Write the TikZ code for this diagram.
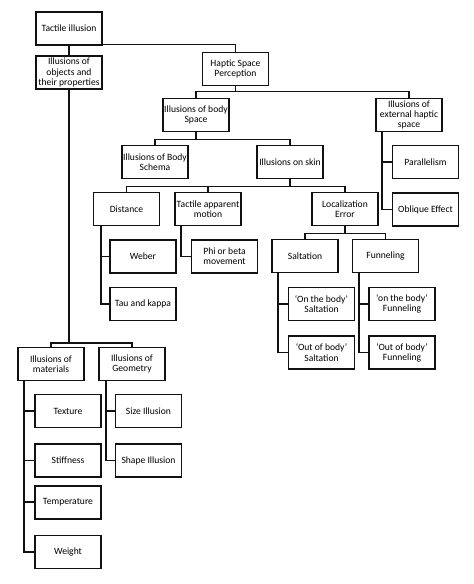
\documentclass[tikz,border=0pt]{standalone}
\usepackage{fontspec}
\setmainfont{Carlito}
\usetikzlibrary{positioning}
\definecolor{tiLine}{HTML}{111111}
\tikzset{
  tibox/.style={
    draw=tiLine, line width=1.6pt, minimum width=66pt, minimum height=33pt,
    inner sep=1pt, align=center, fill=white, font=\fontsize{9.6}{10.3}\selectfont
  },
  link/.style={line width=1.6pt, draw=tiLine},
  stem/.style={link, rounded corners=0pt}
}

\begin{document}
\begin{tikzpicture}[x=1pt, y=-1pt]
  \useasboundingbox (0,0) rectangle (474,584);
  % top levels
  \node[tibox] (tac) at (69,28.5) {Tactile illusion};
  \node[tibox] (obj) at (69,72.5) {Illusions of\\objects and\\their properties};
  \node[tibox] (hap) at (235.5,69) {Haptic Space\\Perception};
  \node[tibox] (bod) at (196,115) {Illusions of body\\Space};
  \node[tibox] (ext) at (409,115) {Illusions of\\external haptic\\space};
  \node[tibox] (sch) at (155,162) {Illusions of Body\\Schema};
  \node[tibox] (skn) at (290,162) {Illusions on skin};
  \node[tibox] (par) at (425.5,162) {Parallelism};
  \node[tibox, below=13pt of par] (obl) {Oblique Effect};
  % skin
  \node[tibox] (dis) at (126.5,209) {Distance};
  \node[tibox] (tam) at (208,209) {Tactile apparent\\motion};
  \node[tibox] (loc) at (345,209) {Localization\\Error};
  \node[tibox] (web) at (143,256.5) {Weber};
  \node[tibox, below=13pt of web] (tau) {Tau and kappa};
  \node[tibox] (phi) at (224.5,256.5) {Phi or beta\\movement};
  \node[tibox] (sal) at (305,256) {Saltation};
  \node[tibox] (fun) at (385.5,256) {Funneling};
  \node[tibox] (osa) at (321.5,304) {‘On the body’\\Saltation};
  \node[tibox, below=14pt of osa] (xsa) {‘Out of body’\\Saltation};
  \node[tibox] (ofu) at (402,304) {‘on the body’\\Funneling};
  \node[tibox, below=14pt of ofu] (xfu) {‘Out of body’\\Funneling};
  % objects
  \node[tibox] (mat) at (51,364) {Illusions of\\materials};
  \node[tibox] (geo) at (132,364) {Illusions of\\Geometry};
  \node[tibox] (tex) at (68,411) {Texture};
  \node[tibox, below=15pt of tex] (sti) {Stiffness};
  \node[tibox, below=7pt of sti] (tem) {Temperature};
  \node[tibox, below=15pt of tem] (wei) {Weight};
  \node[tibox] (siz) at (148.5,411) {Size Illusion};
  \node[tibox, below=15pt of siz] (sha) {Shape Illusion};

  % buses
  \draw[link] (tac.south) -- (obj.north);
  \draw[link] ([yshift=1.5pt]tac.south east) -| (hap.north);
  \draw[link] (hap.south) -- ++(0,5) -| (bod.north);
  \draw[link] (hap.south) -- ++(0,5) -| (ext.north);
  \draw[link] (bod.south) -- ++(0,7) -| (sch.north);
  \draw[link] (bod.south) -- ++(0,7) -| (skn.north);
  \draw[link] (skn.south) -- ++(0,7) -| (dis.north);
  \draw[link] (skn.south) -- ++(0,7) -| (tam.north);
  \draw[link] (skn.south) -- ++(0,7) -| (loc.north);
  \draw[link] (loc.south) -- ++(0,7) -| (sal.north);
  \draw[link] (loc.south) -- ++(0,7) -| (fun.north);
  \draw[link] (obj.south) -- ++(0,253) -| (mat.north);
  \draw[link] (obj.south) -- ++(0,253) -| (geo.north);

  % side stems
  \draw[stem] ([xshift=7pt]ext.south west) |- (par.west);
  \draw[stem] ([xshift=7pt]ext.south west) |- (obl.west);
  \draw[stem] ([xshift=8pt]dis.south west) |- (web.west);
  \draw[stem] ([xshift=8pt]dis.south west) |- (tau.west);
  \draw[stem] ([xshift=7pt]tam.south west) |- (phi.west);
  \draw[stem] ([xshift=7pt]sal.south west) |- (osa.west);
  \draw[stem] ([xshift=7pt]sal.south west) |- (xsa.west);
  \draw[stem] ([xshift=7pt]fun.south west) |- (ofu.west);
  \draw[stem] ([xshift=7pt]fun.south west) |- (xfu.west);
  \draw[stem] ([xshift=7pt]mat.south west) |- (tex.west);
  \draw[stem] ([xshift=7pt]mat.south west) |- (sti.west);
  \draw[stem] ([xshift=7pt]mat.south west) |- (tem.west);
  \draw[stem] ([xshift=7pt]mat.south west) |- (wei.west);
  \draw[stem] ([xshift=8pt]geo.south west) |- (siz.west);
  \draw[stem] ([xshift=8pt]geo.south west) |- (sha.west);
\end{tikzpicture}
\end{document}
